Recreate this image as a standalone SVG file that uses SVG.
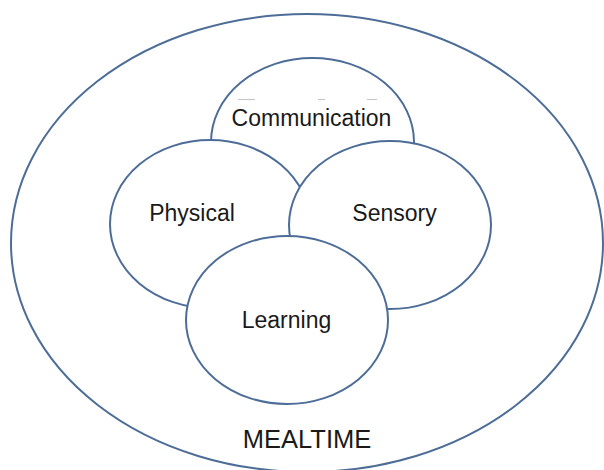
<svg xmlns="http://www.w3.org/2000/svg" width="604" height="470" viewBox="0 0 604 470">
<style>
.c{fill:#fff;stroke:#4d6d98;stroke-width:2}
.t{font-family:"Liberation Sans",Arial,sans-serif;font-size:23px;fill:#1a1a1a;text-anchor:middle}
.a{stroke:#c8c8c8;stroke-width:1.2}
</style>
<rect width="604" height="470" fill="#fff"/>
<g id="mealtime">
<ellipse class="c" cx="307" cy="243" rx="296" ry="229"/>
<text class="t" x="307" y="448" style="font-size:25.5px">MEALTIME</text>
</g>
<g id="communication">
<ellipse class="c" cx="312.5" cy="142" rx="101.5" ry="84"/>
<line class="a" x1="238" y1="99.5" x2="255" y2="99.5"/>
<line class="a" x1="318" y1="99.5" x2="325" y2="99.5"/>
<line class="a" x1="367" y1="99.5" x2="377" y2="99.5"/>
<text class="t" x="311.5" y="126">Communication</text>
</g>
<g id="physical">
<ellipse class="c" cx="210" cy="224" rx="100" ry="84"/>
<text class="t" x="192" y="221">Physical</text>
</g>
<g id="sensory">
<ellipse class="c" cx="390" cy="225" rx="101" ry="84"/>
<text class="t" x="394.5" y="221">Sensory</text>
</g>
<g id="learning">
<ellipse class="c" cx="287" cy="320" rx="101" ry="84"/>
<text class="t" x="286.5" y="328">Learning</text>
</g>
<g id="connectors"></g>
</svg>
